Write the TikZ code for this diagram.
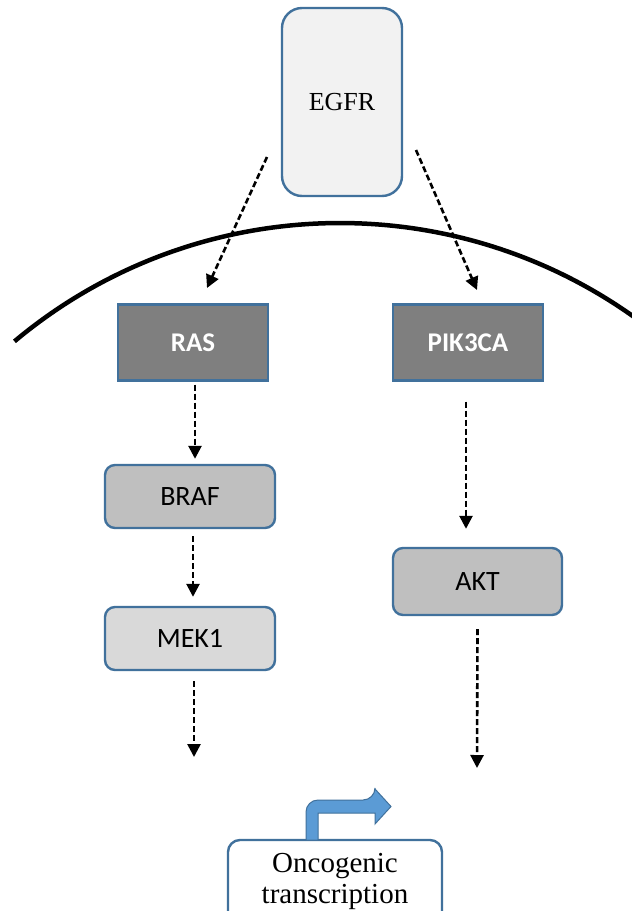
\documentclass[tikz,border=0pt]{standalone}
\usepackage{fontspec}
\setmainfont{Liberation Serif}
\newfontfamily\calfont{Carlito}
\usetikzlibrary{arrows.meta,calc}
\definecolor{bordblue}{HTML}{41719C}
\definecolor{fillblue}{HTML}{5B9BD5}
\definecolor{darkgray}{HTML}{7F7F7F}
\definecolor{midgray}{HTML}{BFBFBF}
\definecolor{lightgray}{HTML}{D9D9D9}
\definecolor{palegray}{HTML}{F2F2F2}
\begin{document}
\begin{tikzpicture}[x=1pt,y=1pt,
  basebox/.style={draw=bordblue,line width=2.4pt,inner sep=0pt,align=center},
  sqbox/.style={basebox,fill=darkgray,text=white,font=\calfont\bfseries\fontsize{27}{32}\selectfont,minimum width=150pt,minimum height=76pt},
  rbox/.style={basebox,rounded corners=10pt,font=\calfont\fontsize{28}{32}\selectfont,minimum width=170pt,minimum height=63pt},
  link/.style={line width=2.6pt,dash pattern=on 6pt off 3pt,-{Triangle[length=13pt,width=13pt]}}]
\useasboundingbox (0,0) rectangle (632,-911);
\clip (0,0) rectangle (632,-911);
\fill[white] (0,0) rectangle (632,-911);
% membrane
\draw[line width=4.5pt] (340,-730) ++(129.95:507) arc[start angle=129.95,end angle=50,radius=507];
% nodes
\node[basebox,rounded corners=20pt,fill=palegray,minimum width=120pt,minimum height=188pt,font=\fontsize{26}{30}\selectfont] (egfr) at (342,-102) {EGFR};
\node[sqbox] (ras) at (193,-342.5) {RAS};
\node[sqbox] (pik) at (468,-342.5) {PIK3CA};
\node[rbox,fill=midgray] (braf) at (190,-496.5) {BRAF};
\node[rbox,fill=lightgray] (mek) at (190,-638.5) {MEK1};
\node[rbox,fill=midgray,minimum width=169pt,minimum height=67pt] (akt) at (477.5,-581.5) {AKT};
\node[basebox,rounded corners=12pt,fill=white,minimum width=214pt,minimum height=83pt,font=\fontsize{29}{31}\selectfont] (onco) at (335,-881.5) {Oncogenic\\transcription};
% connector end points
\coordinate (e1) at (267,-157);
\coordinate (t1) at (207,-288);
\coordinate (e2) at (416,-150);
\coordinate (t2) at (477,-290);
\coordinate (m1) at (194,-757);
\coordinate (a1) at (477,-768);
% connectors
\draw[link] (e1) -- (t1);
\draw[link] (e2) -- (t2);
\draw[link] ($(ras.south)+(2,-3)$) -- ($(braf.north)+(5,5)$);
\draw[link] ($(braf.south)+(3,-7)$) -- ($(mek.north)+(3,9)$);
\draw[link] ($(mek.south)+(4,-10)$) -- (m1);
\draw[link] ($(pik.south)+(-2,-20)$) -- ($(akt.north)+(-11.5,18)$);
\draw[link] ($(akt.south)+(0,-13)$) -- (a1);
% bent arrow (transcription start)
\draw[fill=fillblue,draw=bordblue,line width=1pt]
  (306,-840) {[rounded corners=12pt] -- (306,-800) -- (375,-800)} -- (375,-789) -- (391,-806.5) -- (375,-824) -- (375,-813) -- (318,-813) -- (318,-840) -- cycle;
\end{tikzpicture}
\end{document}
